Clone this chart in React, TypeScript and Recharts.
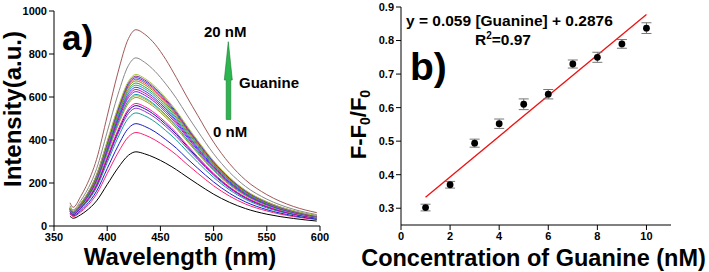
import React from "react";
import {
  LineChart,
  Line,
  XAxis,
  YAxis,
  ComposedChart,
  Scatter,
  ErrorBar,
  ReferenceLine,
} from "recharts";

const FONT = "'Liberation Sans', Arial, sans-serif";

// ---------- Panel a: emission spectra ----------
const wavelengths = [365, 368, 375, 380, 390, 400, 410, 420, 427, 435, 445, 455, 465, 475, 485, 500, 515, 530, 550, 575, 597];

const s0nM = [46, 36, 52, 69, 117, 193, 269, 329, 345, 336, 317, 292, 262, 228, 195, 148, 110, 81, 55, 35, 23];
const s01 = [56, 44, 65, 87, 148, 244, 339, 415, 435, 424, 400, 368, 331, 287, 246, 187, 139, 102, 70, 44, 30];
const s02 = [60, 48, 71, 95, 162, 267, 371, 455, 476, 464, 438, 402, 362, 314, 269, 205, 152, 112, 76, 48, 32];
const s03 = [66, 52, 79, 105, 179, 295, 410, 502, 526, 513, 484, 444, 400, 347, 297, 226, 168, 124, 84, 53, 36];
const s04 = [68, 54, 82, 110, 186, 307, 427, 523, 548, 534, 504, 463, 416, 362, 310, 236, 175, 129, 88, 55, 37];
const s05 = [70, 55, 84, 112, 190, 314, 437, 535, 560, 546, 515, 473, 426, 370, 316, 241, 179, 132, 90, 56, 38];
const s06 = [71, 56, 86, 114, 194, 319, 445, 544, 570, 556, 524, 482, 433, 376, 322, 245, 182, 134, 91, 57, 39];
const s07 = [74, 59, 90, 120, 203, 335, 466, 571, 598, 583, 550, 505, 454, 395, 338, 257, 191, 141, 96, 60, 41];
const s08 = [75, 60, 91, 121, 206, 339, 473, 579, 606, 591, 558, 512, 461, 400, 342, 261, 194, 142, 97, 61, 41];
const s09 = [75, 60, 92, 122, 208, 343, 477, 584, 612, 597, 563, 517, 465, 404, 346, 263, 196, 144, 98, 61, 42];
const s10 = [77, 61, 94, 125, 213, 350, 488, 597, 625, 609, 575, 528, 475, 413, 353, 269, 200, 147, 100, 63, 43];
const s11 = [78, 62, 95, 127, 216, 356, 495, 606, 635, 619, 584, 537, 483, 419, 359, 273, 203, 149, 102, 64, 43];
const s12 = [79, 63, 97, 129, 219, 361, 503, 616, 645, 629, 593, 545, 490, 426, 364, 277, 206, 152, 103, 65, 44];
const s13 = [80, 64, 98, 131, 223, 367, 511, 626, 655, 639, 603, 553, 498, 432, 370, 282, 210, 154, 105, 66, 45];
const s14 = [81, 65, 100, 133, 226, 372, 519, 635, 665, 648, 612, 562, 505, 439, 376, 286, 213, 156, 106, 67, 45];
const s15 = [82, 66, 101, 135, 230, 378, 527, 645, 675, 658, 621, 570, 513, 446, 381, 290, 216, 159, 108, 68, 46];
const s16 = [83, 66, 102, 137, 232, 382, 533, 652, 683, 666, 628, 577, 519, 451, 386, 294, 219, 161, 109, 68, 46];
const s17 = [84, 67, 104, 138, 235, 386, 538, 659, 690, 673, 635, 583, 524, 455, 390, 297, 221, 162, 110, 69, 47];
const s18 = [85, 68, 105, 139, 237, 390, 544, 666, 697, 680, 641, 589, 530, 460, 394, 300, 223, 164, 112, 70, 47];
const s19 = [86, 68, 106, 141, 240, 395, 550, 673, 705, 687, 649, 596, 536, 465, 398, 303, 226, 166, 113, 71, 48];
const s20 = [94, 75, 117, 156, 266, 438, 610, 747, 782, 762, 719, 661, 594, 516, 442, 336, 250, 184, 125, 78, 53];
const s20nM = [108, 87, 137, 183, 310, 511, 712, 872, 913, 893, 845, 775, 690, 600, 515, 390, 290, 214, 146, 91, 62];

const spectra = [s0nM, s01, s02, s03, s04, s05, s06, s07, s08, s09, s10, s11, s12, s13, s14, s15, s16, s17, s18, s19, s20, s20nM];

const spectraColors = [
  "#000000", "#ff2070", "#1c1cc8", "#159a9a", "#9a30d0", "#1010a0", "#ff10b0", "#9a9a30",
  "#b8b830", "#10a0a0", "#7a20ff", "#d0108a", "#3a3aff", "#30a0a0", "#30a030", "#8a8a10",
  "#ff3060", "#2050e0", "#902c9a", "#a8c840", "#888888", "#a05a58",
];

const xTicksA = [350, 400, 450, 500, 550, 600];
const yTicksA = [0, 200, 400, 600, 800, 1000];

const spectraTable = wavelengths.map((w, i) => {
  const row: Record<string, number> = { w };
  spectra.forEach((s, k) => {
    row["c" + k] = s[i];
  });
  return row;
});

// ---------- Panel b: calibration ----------
const concentrations = [1, 2, 3, 4, 5, 6, 7, 8, 9, 10];
const ratios = [0.302, 0.37, 0.494, 0.552, 0.61, 0.64, 0.73, 0.75, 0.79, 0.837];
const ratioErrors = [0.01, 0.01, 0.012, 0.014, 0.016, 0.014, 0.012, 0.015, 0.013, 0.016];
const fitStart = { x: 1, y: 0.333 };
const fitEnd = { x: 10, y: 0.878 };
const xTicksB = [0, 2, 4, 6, 8, 10];
const yTicksB = [0.3, 0.4, 0.5, 0.6, 0.7, 0.8, 0.9];

const pointsB = concentrations.map((x, i) => ({ x, y: ratios[i], e: ratioErrors[i] }));

const tickStyle = { fill: "#000", fontSize: 11, fontWeight: "bold" as const, fontFamily: FONT };
const axisStroke = { stroke: "#000", strokeWidth: 1 };

const Dot = (p: any) => <circle cx={p.cx} cy={p.cy} r={3.4} fill="#000" />;

export default function App() {
  return (
    <div style={{ position: "absolute", left: 0, top: 0, width: 709, height: 272, background: "#fff", fontFamily: FONT }}>
      <div style={{ position: "absolute", left: 0, top: 0 }}>
        <LineChart width={340} height={272} data={spectraTable} margin={{ top: 11, right: 20, bottom: 0, left: 0 }}>
          <XAxis
            dataKey="w"
            type="number"
            domain={[350, 600]}
            ticks={xTicksA}
            height={46}
            tick={tickStyle}
            tickSize={5}
            tickMargin={2}
            axisLine={axisStroke}
            tickLine={axisStroke}
            allowDataOverflow
          />
          <XAxis xAxisId="top" orientation="top" type="number" domain={[350, 600]} height={0} tick={false} tickLine={false} axisLine={axisStroke} />
          <YAxis
            domain={[0, 1000]}
            ticks={yTicksA}
            width={54}
            tick={tickStyle}
            tickSize={5}
            tickMargin={2}
            axisLine={axisStroke}
            tickLine={axisStroke}
          />
          <YAxis yAxisId="right" orientation="right" domain={[0, 1000]} width={0} tick={false} tickLine={false} axisLine={axisStroke} />
          {spectra.map((_, k) => (
            <Line
              key={k}
              dataKey={"c" + k}
              type="monotone"
              stroke={spectraColors[k]}
              strokeWidth={1}
              dot={false}
              isAnimationActive={false}
            />
          ))}
        </LineChart>
      </div>
      <div style={{ position: "absolute", left: 340, top: 0 }}>
        <ComposedChart width={369} height={272} margin={{ top: 7, right: 38, bottom: 0, left: 0 }}>
          <XAxis
            dataKey="x"
            type="number"
            domain={[0, 11]}
            ticks={xTicksB}
            height={47}
            tick={tickStyle}
            tickSize={5}
            tickMargin={2}
            axisLine={axisStroke}
            tickLine={axisStroke}
          />
          <XAxis xAxisId="top" orientation="top" type="number" domain={[0, 11]} height={0} tick={false} tickLine={false} axisLine={axisStroke} />
          <YAxis
            dataKey="y"
            type="number"
            domain={[0.25, 0.9]}
            ticks={yTicksB}
            width={61}
            tick={tickStyle}
            tickSize={5}
            tickMargin={2}
            tickFormatter={(v: number) => v.toFixed(1)}
            axisLine={axisStroke}
            tickLine={axisStroke}
          />
          <YAxis yAxisId="right" orientation="right" type="number" domain={[0.25, 0.9]} width={0} tick={false} tickLine={false} axisLine={axisStroke} />
          <ReferenceLine segment={[fitStart, fitEnd]} stroke="#ee1111" strokeWidth={1.3} ifOverflow="visible" />
          <Scatter data={pointsB} dataKey="y" shape={Dot} isAnimationActive={false}>
            <ErrorBar dataKey="e" direction="y" width={5} stroke="#777" strokeWidth={1} />
          </Scatter>
        </ComposedChart>
      </div>
      <svg width={709} height={272} style={{ position: "absolute", left: 0, top: 0, pointerEvents: "none" }} fontFamily={FONT} fontWeight="bold">
        <text x={62} y={50} fontSize={35} fill="#000">a)</text>
        <text x={204} y={36.5} fontSize={15} fill="#000">20 nM</text>
        <text x={239} y={88} fontSize={15} fill="#000">Guanine</text>
        <text x={213} y={137} fontSize={15} fill="#000">0 nM</text>
        <polygon
          points="228.3,41.7 232.3,80 230.8,80 230.8,119.5 226.2,119.5 226.2,80 224.3,80"
          fill="#2db550"
          stroke="#1a7a30"
          strokeWidth={0.6}
        />
        <text x={20.5} y={109} fontSize={24} fill="#000" textAnchor="middle" transform="rotate(-90 20.5 109)">Intensity(a.u.)</text>
        <text x={180} y={265} fontSize={24} fill="#000" textAnchor="middle">Wavelength (nm)</text>

        <text x={406} y={26} fontSize={15.5} fill="#000">y = 0.059 [Guanine] + 0.2876</text>
        <text x={503} y={45} fontSize={15.5} fill="#000" textAnchor="middle">
          R<tspan fontSize={10} dy={-6}>2</tspan><tspan dy={6}>=0.97</tspan>
        </text>
        <text x={410} y={80} fontSize={39} fill="#000">b)</text>
        <text x={366} y={124.5} fontSize={22} fill="#000" textAnchor="middle" transform="rotate(-90 366 124.5)">
          F-F<tspan fontSize={14} dy={4}>0</tspan><tspan dy={-4}>/F</tspan><tspan fontSize={14} dy={4}>0</tspan>
        </text>
        <text x={533.5} y={266} fontSize={23.5} fill="#000" textAnchor="middle">Concentration of Guanine (nM)</text>
      </svg>
    </div>
  );
}
